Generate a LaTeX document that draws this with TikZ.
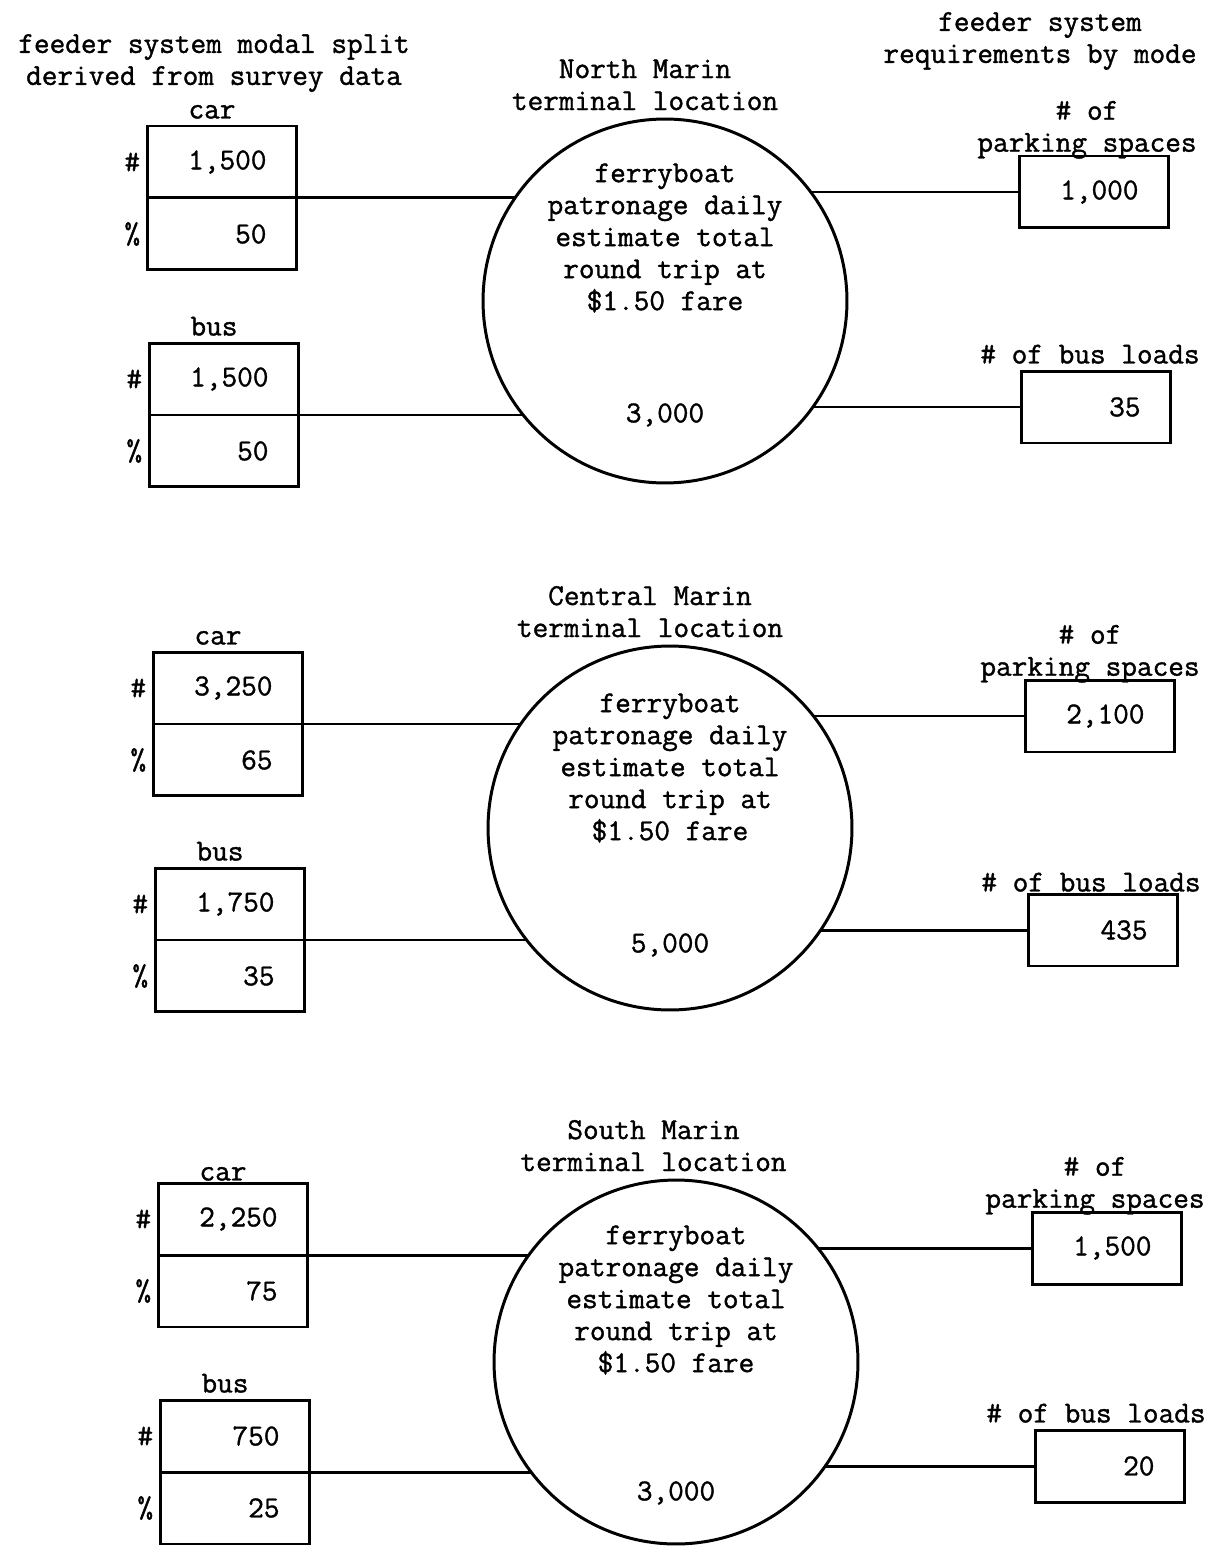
\documentclass[tikz,border=0pt]{standalone}
\usepackage{fontspec}
\setmonofont{Latin Modern Mono}[FakeBold=1.2]
\usetikzlibrary{positioning,backgrounds}
\tikzset{cell/.style={
    draw, rectangle, outer sep=0pt, inner xsep=0.6cm, inner ysep=0pt,
    text width=1.78cm, align=right, minimum height=1.44cm},
    terminal/.style={draw, circle, fill=white, inner sep=0pt, minimum size=7.28cm},
    conn/.style={line width=1.7pt}
}

\begin{document}
\begin{tikzpicture}[x=0.02cm, y=-0.02cm, line width=1.7pt,
        font=\ttfamily\fontsize{17.3}{18.2}\selectfont]
        \useasboundingbox (0,0) rectangle (1209,1554);
        %headings
        \node[align=center] (hdL) at (214,63) {feeder system modal split\\derived from survey data};
        \node[align=center] (hdR) at (1040,41) {feeder system\\requirements by mode};

        %North Marin
        \node[terminal, label={[align=center, xshift=-0.4cm]above:North Marin\\terminal location}] (circN) at (665,301) {};
        \node[align=center] (txtN) at ([yshift=1.26cm]circN.center) {ferryboat\\patronage daily\\estimate total\\round trip at\\\$1.50 fare};
        \node (valN) at ([yshift=-2.28cm]circN.center) {3,000};
        \node[cell, label=left:\#, label={[xshift=-0.2cm]above:car}] (carN) at (222,162) {1,500};
        \node[cell, below=0pt of carN, label=left:\%] (carNp) {50};
        \node[cell, label=left:\#, label={[xshift=-0.2cm]above:bus}] (busN) at (224,379) {1,500};
        \node[cell, below=0pt of busN, label=left:\%] (busNp) {50};
        \node[cell, label={[align=center, xshift=-0.14cm, label distance=-0.2cm]above:\# of\\parking spaces}] (pkN) at (1094,192) {1,000};
        \node[cell, label={[xshift=-0.12cm]above:\# of bus loads}] (blN) at (1096,407) {35};

        %Central Marin
        \node[terminal, label={[align=center, xshift=-0.4cm]above:Central Marin\\terminal location}] (circC) at (670,828) {};
        \node[align=center] (txtC) at ([yshift=1.2cm]circC.center) {ferryboat\\patronage daily\\estimate total\\round trip at\\\$1.50 fare};
        \node (valC) at ([yshift=-2.34cm]circC.center) {5,000};
        \node[cell, label=left:\#, label={[xshift=-0.2cm]above:car}] (carC) at (228,688) {3,250};
        \node[cell, below=0pt of carC, label=left:\%] (carCp) {65};
        \node[cell, label=left:\#, label={[xshift=-0.2cm]above:bus}] (busC) at (230,904) {1,750};
        \node[cell, below=0pt of busC, label=left:\%] (busCp) {35};
        \node[cell, label={[align=center, xshift=-0.2cm, label distance=-0.2cm]above:\# of\\parking spaces}] (pkC) at (1100,716) {2,100};
        \node[cell, label={[xshift=-0.24cm, label distance=-0.1cm]above:\# of bus loads}] (blC) at (1103,930) {435};

        %South Marin
        \node[terminal, label={[align=center, xshift=-0.45cm]above:South Marin\\terminal location}] (circS) at (676,1362) {};
        \node[align=center] (txtS) at ([yshift=1.24cm]circS.center) {ferryboat\\patronage daily\\estimate total\\round trip at\\\$1.50 fare};
        \node (valS) at ([yshift=-2.62cm]circS.center) {3,000};
        \node[cell, label=left:\#, label={[xshift=-0.2cm, label distance=-0.1cm]above:car}] (carS) at (233,1219) {2,250};
        \node[cell, below=0pt of carS, label=left:\%] (carSp) {75};
        \node[cell, label=left:\#, label={[xshift=-0.2cm]above:bus}] (busS) at (235,1436) {750};
        \node[cell, below=0pt of busS, label=left:\%] (busSp) {25};
        \node[cell, label={[align=center, xshift=-0.24cm, label distance=-0.2cm]above:\# of\\parking spaces}] (pkS) at (1107,1248) {1,500};
        \node[cell, label={[xshift=-0.28cm]above:\# of bus loads}] (blS) at (1110,1466) {20};

        %connectors, behind the circles
        \begin{pgfonlayer}{background}
        \draw[conn] (carN.south east) -- (carN.south east -| circN.center);
        \draw[conn] (busN.south east) -- (busN.south east -| circN.center);
        \draw[conn] (circN.center |- pkN.west) -- (pkN.west);
        \draw[conn] (circN.center |- blN.west) -- (blN.west);

        \draw[conn] (carC.south east) -- (carC.south east -| circC.center);
        \draw[conn] (busC.south east) -- (busC.south east -| circC.center);
        \draw[conn] (circC.center |- pkC.west) -- (pkC.west);
        \draw[conn] (circC.center |- blC.west) -- (blC.west);

        \draw[conn] (carS.south east) -- (carS.south east -| circS.center);
        \draw[conn] (busS.south east) -- (busS.south east -| circS.center);
        \draw[conn] (circS.center |- pkS.west) -- (pkS.west);
        \draw[conn] (circS.center |- blS.west) -- (blS.west);
        \end{pgfonlayer}
\end{tikzpicture}
\end{document}
